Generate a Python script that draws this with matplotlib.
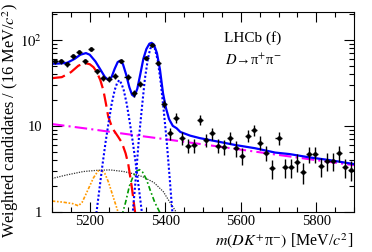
import matplotlib
matplotlib.use('Agg')
import matplotlib.pyplot as plt
from matplotlib.ticker import MultipleLocator, FixedLocator, FixedFormatter, LogLocator, NullFormatter

plt.rcParams['font.family'] = ['Liberation Serif', 'DejaVu Serif']
plt.rcParams['mathtext.fontset'] = 'stix'

# data points, 16 MeV bins
mass = [5108, 5124, 5140, 5156, 5172, 5188, 5204, 5220, 5236, 5252,
        5268, 5284, 5300, 5316, 5332, 5348, 5364, 5380, 5396, 5412,
        5428, 5444, 5460, 5476, 5492, 5508, 5524, 5540, 5556, 5572,
        5588, 5604, 5620, 5636, 5652, 5668, 5684, 5700, 5716, 5732,
        5748, 5764, 5780, 5796, 5812, 5828, 5844, 5860, 5876, 5892]
counts = [56, 56, 52, 64, 73, 56, 79, 43, 36, 35,
          38, 57, 37, 24, 31, 61, 87, 54, 18, 8.2,
          12.5, 7.2, 5.9, 6.0, 11.7, 6.9, 8.2, 5.9, 5.7, 7.3,
          5.5, 4.5, 7.7, 9.0, 6.4, 4.9, 3.2, 7.2, 3.3, 3.3,
          3.85, 2.9, 4.7, 4.7, 3.4, 3.9, 3.9, 4.8, 3.3, 3.1]
errs = [3.4, 3.4, 3.2, 3.6, 3.8, 3.4, 4.0, 3.0, 2.7, 2.7,
        2.8, 3.4, 2.7, 2.2, 2.5, 3.5, 4.2, 3.3, 1.9, 1.3,
        1.6, 1.2, 1.1, 1.1, 1.5, 1.2, 1.3, 1.1, 1.1, 1.2,
        1.1, 1.0, 1.25, 1.35, 1.15, 1.0, 0.8, 1.2, 0.8, 0.8,
        0.9, 0.77, 1.0, 1.0, 0.83, 0.9, 0.9, 1.0, 0.8, 0.8]

# fit components
tot_m = [5100, 5120, 5140, 5160, 5175, 5190, 5200, 5215, 5227, 5240, 5250, 5258,
         5266, 5274, 5280, 5288, 5296, 5305, 5312, 5318, 5326, 5334, 5342, 5350,
         5358, 5364, 5370, 5378, 5386, 5394, 5402, 5410, 5420, 5430, 5440, 5466,
         5492, 5545, 5585, 5638, 5691, 5730, 5783, 5836, 5900]
tot_v = [52.6, 53, 54, 60, 67, 70, 67, 56, 46, 37, 34, 37,
         46, 55, 57, 52, 40, 28, 23, 22, 27, 40, 60, 78,
         90, 92, 88, 70, 45, 24, 16, 12, 10, 9.4, 8.5, 7.7,
         7.2, 6.5, 6.0, 5.5, 4.9, 4.7, 4.3, 4.0, 3.6]

red_m = [5100, 5126, 5150, 5170, 5187, 5200, 5210, 5218, 5228, 5236, 5243, 5249,
         5256, 5262, 5275, 5285, 5295, 5302, 5311, 5320, 5324]
red_v = [35.8, 36.8, 42, 50, 53.6, 52, 48, 42.8, 34, 26, 18, 12.8,
         10.5, 9.1, 7.5, 6.4, 4.8, 3.6, 2.0, 1.0, 0.7]

comb_m = [5100, 5200, 5300, 5400, 5500, 5600, 5700, 5800, 5900]
comb_v = [10.5, 9.2, 8.0, 7.0, 6.1, 5.3, 4.6, 4.0, 3.5]

gray_m = [5100, 5140, 5183, 5220, 5254, 5290, 5320, 5342, 5370, 5395, 5412, 5426, 5432]
gray_v = [2.45, 2.7, 2.95, 3.05, 3.08, 2.95, 2.75, 2.55, 2.2, 1.72, 1.3, 1.05, 0.9]

orange_m = [5100, 5130, 5155, 5170, 5180, 5195, 5210, 5222, 5230, 5240, 5250, 5262, 5272, 5278]
orange_v = [1.34, 1.3, 1.25, 1.18, 1.3, 1.8, 2.5, 3.0, 3.05, 2.8, 2.2, 1.5, 1.1, 0.9]

green_m = [5285, 5295, 5305, 5315, 5325, 5332, 5340, 5350, 5360, 5372, 5385, 5390]
green_v = [0.9, 1.3, 2.0, 2.6, 3.0, 3.1, 2.9, 2.4, 1.8, 1.3, 1.0, 0.85]

b0_m = [5210, 5218, 5226, 5234, 5242, 5250, 5258, 5266, 5272, 5278,
        5284, 5290, 5298, 5306, 5314, 5322, 5330, 5338, 5346]
b0_v = [0.7, 1.0, 1.9, 3.6, 6.5, 11, 18, 26, 31, 34,
        31, 26, 18, 11, 6.5, 3.6, 1.9, 1.0, 0.7]

bs_m = [5305, 5314, 5322, 5330, 5338, 5346, 5354, 5360, 5366,
        5372, 5380, 5388, 5396, 5404, 5412, 5418, 5424]
bs_v = [0.6, 1.0, 2.5, 7, 16, 35, 60, 78, 87,
        80, 58, 32, 15, 6.5, 2.4, 1.1, 0.6]

fig = plt.figure(figsize=(3.72, 2.52), dpi=100)
ax = fig.add_axes([52 / 372, 40 / 252, 302 / 372, 200 / 252])

ax.plot(gray_m, gray_v, color='#333333', lw=0.9, ls=(0, (1, 1)))
ax.plot(orange_m, orange_v, color='#ff9900', lw=1.2, ls=(0, (2, 1, 1, 1, 1, 1)))
ax.plot(green_m, green_v, color='#009900', lw=1.2, ls=(0, (3, 1.5, 1, 1.5)))
ax.plot(comb_m, comb_v, color='#ff00ff', lw=1.5, ls=(0, (6, 2, 1, 2)))
ax.plot(red_m, red_v, color='red', lw=1.6, ls=(0, (6, 2.5)))
ax.plot(b0_m, b0_v, color='blue', lw=1.5, ls=(0, (1, 1)))
ax.plot(bs_m, bs_v, color='blue', lw=1.5, ls=(0, (1, 1)))
ax.plot(tot_m, tot_v, color='blue', lw=1.6)

ax.errorbar(mass, counts, yerr=errs, xerr=8, fmt='o', color='black', ms=2.3,
            elinewidth=1, capsize=0)

ax.set_xlim(5100, 5900)
ax.set_yscale('log')
ax.set_ylim(1, 210)
ax.xaxis.set_major_locator(MultipleLocator(200))
ax.xaxis.set_minor_locator(MultipleLocator(50))
ax.yaxis.set_major_locator(FixedLocator([1, 10, 100]))
ax.yaxis.set_major_formatter(FixedFormatter(['1', '10', '$10^{2}$']))
ax.yaxis.set_minor_locator(LogLocator(base=10, subs=range(2, 10)))
ax.yaxis.set_minor_formatter(NullFormatter())
ax.tick_params(which='both', direction='in', top=True, right=True, width=0.8, labelsize=10.5)
ax.tick_params(which='major', length=7)
ax.tick_params(which='minor', length=3.5)
ax.tick_params(axis='y', pad=7)
ax.tick_params(axis='x', pad=2)

ax.text(0.57, 0.85, 'LHCb (f)', transform=ax.transAxes, fontsize=11, va='baseline')
ax.text(0.572, 0.735, '$D$→π$^{+}$π$^{-}$', transform=ax.transAxes, fontsize=10.5, va='baseline')

fig.text(11 / 372, 1 - 3 / 252, 'Weighted candidates / (16 MeV/$c^{2}$)', rotation=90,
         ha='center', va='top', fontsize=11.8)
fig.text(353 / 372, 1 - 250 / 252, '$m(DK^{+}$π$^{-})$ [MeV/$c^{2}$]',
         ha='right', va='bottom', fontsize=11.5)

fig.savefig('out.png', dpi=100)
